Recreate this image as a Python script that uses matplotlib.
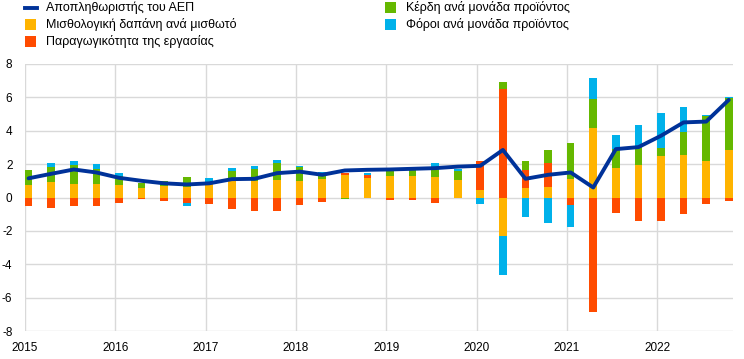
import matplotlib
matplotlib.use("Agg")
import matplotlib.pyplot as plt
import numpy as np
from matplotlib.patches import Rectangle
from matplotlib.lines import Line2D

plt.rcParams['font.family'] = ['Liberation Sans', 'DejaVu Sans']
plt.rcParams['axes.unicode_minus'] = False

quarters = [f"{y}Q{q}" for y in range(2015, 2023) for q in range(1, 5)]
years = list(range(2015, 2023))

# Contributions (percentage points)
wages = [0.73, 0.90, 0.78, 0.78, 0.72, 0.55, 0.66, 0.60,
         0.94, 0.98, 1.00, 1.07, 1.01, 1.13, 1.32, 1.17,
         1.31, 1.27, 1.24, 1.02, 0.42, -2.28, 0.58, 0.62,
         1.12, 4.15, 1.76, 1.94, 2.50, 2.54, 2.20, 2.83]
productivity = [-0.53, -0.62, -0.52, -0.48, -0.32, -0.08, -0.18, -0.34,
                -0.36, -0.68, -0.79, -0.82, -0.42, -0.24, 0.14, 0.16,
                -0.17, -0.13, -0.32, -0.04, 1.76, 6.50, 1.04, 1.42,
                -0.44, -6.87, -0.90, -1.38, -1.38, -0.96, -0.40, -0.20]
profits = [0.90, 0.94, 1.16, 0.90, 0.56, 0.30, 0.30, 0.62,
           0.00, 0.60, 0.73, 1.00, 0.80, 0.13, -0.10, 0.00,
           0.34, 0.37, 0.40, 0.58, 0.00, 0.44, 0.58, 0.80,
           2.16, 1.75, 1.14, 1.06, 0.46, 1.36, 2.70, 3.16]
taxes = [0.00, 0.20, 0.22, 0.32, 0.16, 0.00, 0.00, -0.16,
         0.22, 0.18, 0.13, 0.16, 0.10, 0.25, 0.00, 0.14,
         0.00, 0.00, 0.40, 0.08, -0.38, -2.37, -1.16, -1.54,
         -1.34, 1.25, 0.85, 1.37, 2.13, 1.53, 0.05, 0.04]
deflator = [1.15, 1.42, 1.68, 1.50, 1.18, 1.00, 0.85, 0.78,
            0.85, 1.10, 1.12, 1.46, 1.55, 1.36, 1.62, 1.66,
            1.68, 1.72, 1.76, 1.85, 1.90, 2.85, 1.12, 1.36,
            1.50, 0.60, 2.90, 3.02, 3.70, 4.50, 4.55, 5.85]

labels = ["Αποπληθωριστής του ΑΕΠ", "Μισθολογική δαπάνη ανά μισθωτό",
          "Παραγωγικότητα της εργασίας", "Κέρδη ανά μονάδα προϊόντος",
          "Φόροι ανά μονάδα προϊόντος"]
c_line = "#003299"
c_wages = "#FFB400"
c_prod = "#FF4B00"
c_prof = "#65B800"
c_tax = "#00B1EA"

fig = plt.figure(figsize=(7.44, 3.59), dpi=100)
ax = fig.add_axes([25/744, 1 - 331/359, (733 - 25)/744, (331 - 64)/359])

x = 2015.04 + 0.25 * np.arange(len(quarters))
width = 0.085

series = [(wages, c_wages), (productivity, c_prod), (profits, c_prof), (taxes, c_tax)]
pos_base = np.zeros(len(x))
neg_base = np.zeros(len(x))
for vals, col in series:
    v = np.array(vals)
    pos = np.where(v > 0, v, 0)
    neg = np.where(v < 0, v, 0)
    ax.bar(x, pos, width, bottom=pos_base, color=col, linewidth=0, zorder=3)
    ax.bar(x, neg, width, bottom=neg_base, color=col, linewidth=0, zorder=3)
    pos_base += pos
    neg_base += neg

ax.plot(x, deflator, color=c_line, linewidth=2.8, zorder=4, solid_capstyle='round')

ax.set_xlim(2015.0, 2022.837)
ax.set_ylim(-8, 8)
ax.set_yticks(np.arange(-8, 9, 2))
ax.set_xticks(years)
ax.set_xticklabels([str(y) for y in years])
ax.grid(True, color="#d9d9d9", linewidth=1.0, zorder=0)
ax.set_axisbelow(True)
for s in ax.spines.values():
    s.set_visible(False)
ax.tick_params(axis='both', length=0, labelsize=8.5, colors='black')
ax.tick_params(axis='y', pad=9)
ax.tick_params(axis='x', pad=8)

# Legend (manual, in figure pixel coordinates)
W, H = 744, 359
def fig_xy(px, py):
    return px / W, 1 - py / H

entries = [
    (25, 7.5, 'line', c_line, labels[0]),
    (25, 24.5, 'patch', c_wages, labels[1]),
    (25, 41.5, 'patch', c_prod, labels[2]),
    (385, 7.5, 'patch', c_prof, labels[3]),
    (385, 24.5, 'patch', c_tax, labels[4]),
]
for px, py, kind, col, lab in entries:
    if kind == 'line':
        x0, y0 = fig_xy(px, py)
        x1, _ = fig_xy(px + 12, py)
        fig.add_artist(Line2D([x0, x1], [y0, y0], color=col, linewidth=2.8,
                              transform=fig.transFigure))
    else:
        x0, y0 = fig_xy(px, py + 5.5)
        fig.add_artist(Rectangle((x0, y0), 11 / W, 11 / H, color=col,
                                 transform=fig.transFigure, linewidth=0))
    tx, ty = fig_xy(px + 21, py)
    fig.text(tx, ty, lab, fontsize=9, va='center', ha='left')

fig.savefig("out.png", dpi=100)
